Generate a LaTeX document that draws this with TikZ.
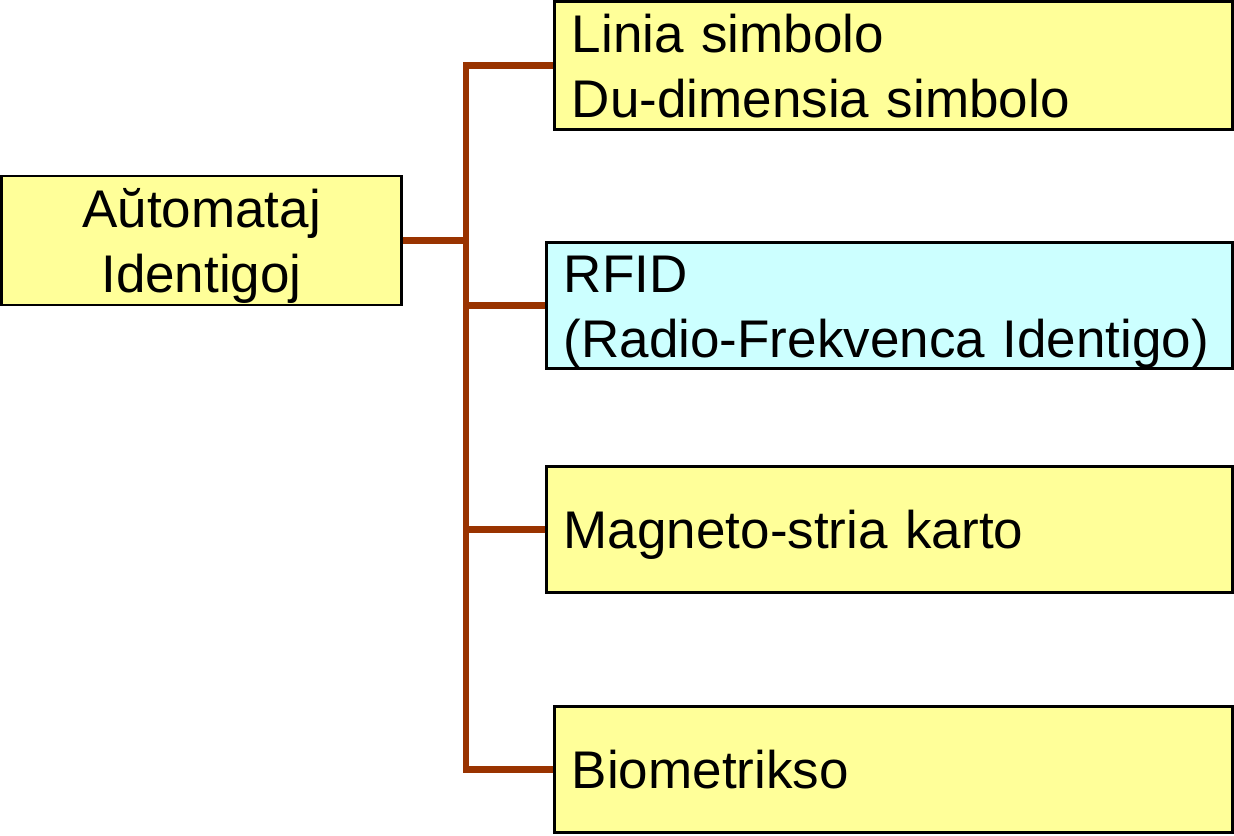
\documentclass[tikz,border=0pt]{standalone}
\usepackage{fontspec}
\setmainfont{Liberation Sans}
\definecolor{boxyellow}{HTML}{FFFF99}
\definecolor{boxcyan}{HTML}{CCFFFF}
\definecolor{connbrown}{HTML}{993300}
\begin{document}
\begin{tikzpicture}[x=0.75pt,y=-0.75pt,
  box/.style={draw=black, line width=1.8pt, rectangle, inner xsep=13pt, inner ysep=0pt,
    font=\fontsize{39.75}{48.75}\selectfont},
  oneline/.style={text height=28.5pt, text depth=0pt},
  twoline/.style={text height=77.25pt, text depth=0pt},
  twolinetop/.style={text height=28.5pt, text depth=48.75pt},
  leftbox/.style={box, align=left},
  conn/.style={draw=connbrown, line width=4.8pt}]
\useasboundingbox[fill=white] (0,0) rectangle (1234,835);
\node[box, twoline, fill=boxyellow, align=center, minimum width=300pt, minimum height=96.75pt] (A) at (201.5,240.5) {Aŭtomataj\\Identigoj};
\node[leftbox, twolinetop, fill=boxyellow, text width=482.5pt, minimum width=508.5pt, minimum height=96pt] (B) at (893.5,65.5) {Linia simbolo\\Du-dimensia simbolo};
\node[leftbox, twolinetop, fill=boxcyan, text width=488.5pt, minimum width=514.5pt, minimum height=94.5pt] (C) at (889.5,305.5) {RFID\\(Radio-Frekvenca Identigo)};
\node[leftbox, oneline, fill=boxyellow, text width=488.5pt, minimum width=514.5pt, minimum height=94.5pt] (D) at (889.5,529.5) {Magneto-stria karto};
\node[leftbox, oneline, fill=boxyellow, text width=482.5pt, minimum width=508.5pt, minimum height=94.5pt] (E) at (893.5,769.5) {Biometrikso};
\coordinate (tx) at (466,0);
\draw[conn] (A.east) -- (A.east -| tx);
\draw[conn] (B.west) -- (B.west -| tx) -- (E.west -| tx) -- (E.west);
\draw[conn] (C.west) -- (C.west -| tx);
\draw[conn] (D.west) -- (D.west -| tx);
\end{tikzpicture}
\end{document}
